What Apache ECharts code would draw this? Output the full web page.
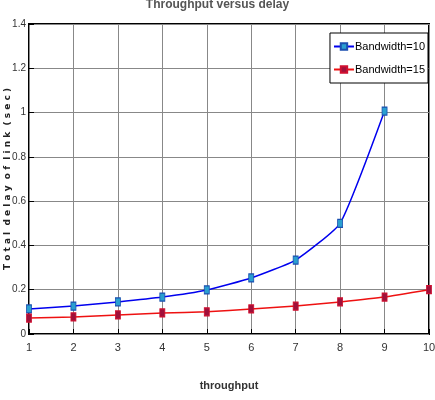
<!DOCTYPE html>
<html>
<head>
  <meta charset="utf-8" />
  <title></title>
  <script src="https://cdn.jsdelivr.net/npm/echarts@6/dist/echarts.min.js"></script>
  <style>
    * { margin: 0; padding: 0; }
    #chart-container { position: relative; width: 435px; height: 400px; background: #fff; }
  </style>
</head>
<body>
  <div id="chart-container"></div>
  <script>
    var throughput = [1, 2, 3, 4, 5, 6, 7, 8, 9, 10];
    var bw10 = [0.113, 0.126, 0.145, 0.167, 0.199, 0.253, 0.334, 0.50, 1.007, null];
    var bw15 = [0.072, 0.077, 0.086, 0.095, 0.100, 0.113, 0.126, 0.145, 0.167, 0.200];

    var narrow = "'Liberation Sans Narrow', 'Arial Narrow', sans-serif";

    var dom = document.getElementById("chart-container");
    var myChart = echarts.init(dom, null, { renderer: "canvas" });

    var option = {
      animation: false,
      title: {
        text: "Throughput versus delay",
        left: "center",
        top: -6,
        textStyle: { fontFamily: narrow, fontSize: 12, fontWeight: "bold", color: "#555" }
      },
      grid: {
        left: 29, right: 6, top: 24, bottom: 66,
        outerBoundsMode: "none", containLabel: false,
        show: true, borderColor: "#000", borderWidth: 2
      },
      legend: {
        right: 7, top: 33, orient: "vertical",
        backgroundColor: "#fff", borderColor: "#000", borderWidth: 1,
        padding: [8, 3, 8, 3], itemGap: 12, itemWidth: 20, itemHeight: 8,
        textStyle: { fontFamily: narrow, fontSize: 11, color: "#000", padding: [0, 0, 0, -4] },
        data: ["Bandwidth=10", "Bandwidth=15"]
      },
      xAxis: {
        type: "value", min: 1, max: 10, interval: 1,
        name: "throughput", nameLocation: "middle", nameGap: 46,
        nameTextStyle: { fontFamily: narrow, fontSize: 11, fontWeight: "bold", color: "#333" },
        axisLine: { show: false },
        axisTick: { inside: true, length: 5, lineStyle: { color: "#000" } },
        axisLabel: { fontFamily: narrow, fontSize: 11, color: "#333", margin: 8 },
        splitLine: { lineStyle: { color: "#888", width: 1 } }
      },
      yAxis: {
        type: "value", min: 0, max: 1.4, interval: 0.2,
        name: "T o t a l  d e l a y  o f  l i n k  ( s e c )", nameLocation: "middle", nameGap: 17,
        nameMoveOverlap: false,
        nameTextStyle: { fontFamily: "'DejaVu Sans', sans-serif", fontSize: 9, fontWeight: "bold", color: "#222" },
        axisLine: { show: false },
        axisTick: { inside: true, length: 5, lineStyle: { color: "#000" } },
        axisLabel: { fontFamily: narrow, fontSize: 10, color: "#333", margin: 3 },
        splitLine: { lineStyle: { color: "#888", width: 1 } }
      },
      series: [
        {
          name: "Bandwidth=10", type: "line", smooth: 0.15,
          data: throughput.map(function (x, i) { return [x, bw10[i]]; }).filter(function (p) { return p[1] != null; }),
          symbol: "rect", symbolSize: [5, 8],
          lineStyle: { color: "#0000ee", width: 1.5 },
          itemStyle: { color: "#2a9fd0", borderColor: "#1a4fb0", borderWidth: 1 }
        },
        {
          name: "Bandwidth=15", type: "line", smooth: 0.15,
          data: throughput.map(function (x, i) { return [x, bw15[i]]; }),
          symbol: "rect", symbolSize: [5, 8],
          lineStyle: { color: "#ee1111", width: 1.5 },
          itemStyle: { color: "#a0103a", borderColor: "#d01030", borderWidth: 1 }
        }
      ]
    };

    myChart.setOption(option);
    window.addEventListener("resize", myChart.resize);
  </script>
</body>
</html>
